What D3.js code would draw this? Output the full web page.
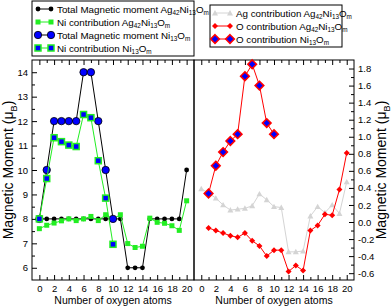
<html>
  <head>
    <meta charset="utf-8" />
    <title>Magnetic moment vs oxygen atoms</title>
    <style>
      body { margin: 0; background: #fff; }
      text { font-family: "Liberation Sans", Arial, sans-serif; }
    </style>
  </head>
  <body>
    <script src="https://cdnjs.cloudflare.com/ajax/libs/d3/7.8.5/d3.min.js"></script>
    <script>
      // ---- data ----
      const atoms = [0, 1, 2, 3, 4, 5, 6, 7, 8, 9, 10, 11, 12, 13, 14, 15, 16, 17, 18, 19, 20];
      const totalAgNi = [8, 8, 8, 8, 8, 8, 8, 8, 8, 8, 8, 8, 6, 6, 6, 8, 8, 8, 8, 8, 10];
      const niAgNi = [7.6, 7.74, 7.83, 7.92, 8.0, 7.93, 8.0, 8.1, 7.93, 8.17, 8.0, 8.17, 6.99, 6.83, 6.88, 8.03, 7.86, 7.82, 7.72, 7.53, 8.74];

      const atomsNi = [0, 1, 2, 3, 4, 5, 6, 7, 8, 9, 10];
      const totalNi = [8, 10, 12, 12, 12, 12, 14, 14, 12, 10, 8];
      const niNi = [8.0, 9.65, 11.32, 11.16, 11.02, 10.96, 12.27, 12.14, 10.38, 8.85, 6.96];

      const agAgNi = [0.39, 0.34, 0.28, 0.2, 0.14, 0.15, 0.16, 0.19, 0.33, 0.26, 0.18, 0.17, -0.35, -0.35, -0.34, 0.07, 0.18, 0.11, 0.2, 0.1, 0.47];

      const atomsO = [1, 2, 3, 4, 5, 6, 7, 8, 9, 10, 11, 12, 13, 14, 15, 16, 17, 18, 19, 20];
      const oAgNi = [-0.07, -0.1, -0.13, -0.16, -0.18, -0.13, -0.22, -0.28, -0.4, -0.33, -0.33, -0.58, -0.51, -0.57, -0.1, -0.04, 0.09, 0.08, 0.38, 0.81];

      const atomsONi = [1, 2, 3, 4, 5, 6, 7, 8, 9, 10];
      const oNi = [0.335, 0.66, 0.82, 0.95, 1.03, 1.71, 1.85, 1.6, 1.16, 1.03];

      const xTicks = [0, 2, 4, 6, 8, 10, 12, 14, 16, 18, 20];
      const xMinor = [1, 3, 5, 7, 9, 11, 13, 15, 17, 19];
      const yTicksL = [6, 7, 8, 9, 10, 11, 12, 13, 14];
      const yMinorL = [6.5, 7.5, 8.5, 9.5, 10.5, 11.5, 12.5, 13.5];
      const yTicksR = [-0.6, -0.4, -0.2, 0.0, 0.2, 0.4, 0.6, 0.8, 1.0, 1.2, 1.4, 1.6, 1.8];
      const yMinorR = [-0.5, -0.3, -0.1, 0.1, 0.3, 0.5, 0.7, 0.9, 1.1, 1.3, 1.5, 1.7];

      const GREEN = "#22ee22";
      const BLUE = "#0000ff";
      const RED = "#ff0000";
      const GRAY = "#d4d4d4";

      const width = 392;
      const height = 306;
      const plotTop = 60, plotBottom = 280;

      const svg = d3.select("body").append("svg")
        .attr("width", width)
        .attr("height", height);

      const xL = d3.scaleLinear().domain([-1, 21]).range([32, 194]);
      const yL = d3.scaleLinear().domain([5.5, 14.5]).range([plotBottom, plotTop]);
      const xR = d3.scaleLinear().domain([-1, 21]).range([194, 354]);
      const yR = d3.scaleLinear().domain([-0.68, 1.9]).range([plotBottom, plotTop]);

      function styleAxis(g) {
        g.select(".domain").remove();
        g.selectAll("line").attr("stroke", "#000");
        g.selectAll("text").attr("font-size", 9.5).attr("fill", "#000")
          .attr("font-family", "Liberation Sans, Arial, sans-serif");
      }

      function xAxes(x) {
        svg.append("g").attr("transform", `translate(0,${plotBottom})`)
          .call(d3.axisBottom(x).tickValues(xTicks).tickSizeInner(-5).tickSizeOuter(0).tickPadding(5))
          .call(styleAxis);
        svg.append("g").attr("transform", `translate(0,${plotBottom})`)
          .call(d3.axisBottom(x).tickValues(xMinor).tickSizeInner(-3).tickSizeOuter(0).tickFormat(""))
          .call(styleAxis);
        svg.append("g").attr("transform", `translate(0,${plotTop})`)
          .call(d3.axisTop(x).tickValues(xTicks).tickSizeInner(-5).tickSizeOuter(0).tickFormat(""))
          .call(styleAxis);
        svg.append("g").attr("transform", `translate(0,${plotTop})`)
          .call(d3.axisTop(x).tickValues(xMinor).tickSizeInner(-3).tickSizeOuter(0).tickFormat(""))
          .call(styleAxis);
      }
      xAxes(xL);
      xAxes(xR);

      svg.append("g").attr("transform", "translate(32,0)")
        .call(d3.axisLeft(yL).tickValues(yTicksL).tickSizeInner(-5).tickSizeOuter(0).tickPadding(4))
        .call(styleAxis);
      svg.append("g").attr("transform", "translate(32,0)")
        .call(d3.axisLeft(yL).tickValues(yMinorL).tickSizeInner(-3).tickSizeOuter(0).tickFormat(""))
        .call(styleAxis);
      svg.append("g").attr("transform", "translate(354,0)")
        .call(d3.axisRight(yR).tickValues(yTicksR).tickSizeInner(-5).tickSizeOuter(0).tickPadding(4)
          .tickFormat(d => d.toFixed(1)))
        .call(styleAxis);
      svg.append("g").attr("transform", "translate(354,0)")
        .call(d3.axisRight(yR).tickValues(yMinorR).tickSizeInner(-3).tickSizeOuter(0).tickFormat(""))
        .call(styleAxis);

      // panel frames
      svg.append("rect").attr("x", 32).attr("y", plotTop).attr("width", 162).attr("height", plotBottom - plotTop)
        .attr("fill", "none").attr("stroke", "#000");
      svg.append("rect").attr("x", 194).attr("y", plotTop).attr("width", 160).attr("height", plotBottom - plotTop)
        .attr("fill", "none").attr("stroke", "#000");

      // markers
      function marker(g, shape, cx, cy, o) {
        if (shape === "circle") {
          g.append("circle").attr("cx", cx).attr("cy", cy).attr("r", o.size)
            .attr("fill", o.fill).attr("stroke", o.stroke || "none").attr("stroke-width", o.sw || 1);
        } else if (shape === "square") {
          g.append("rect").attr("x", cx - o.size).attr("y", cy - o.size)
            .attr("width", o.size * 2).attr("height", o.size * 2)
            .attr("fill", o.fill).attr("stroke", o.stroke || "none").attr("stroke-width", o.sw || 1);
        } else if (shape === "diamond") {
          const s = o.size;
          g.append("path").attr("d", `M${cx},${cy - s}L${cx + s},${cy}L${cx},${cy + s}L${cx - s},${cy}Z`)
            .attr("fill", o.fill).attr("stroke", o.stroke || "none").attr("stroke-width", o.sw || 1);
        } else if (shape === "triangle") {
          const s = o.size;
          g.append("path").attr("d", `M${cx},${cy - s}L${cx + s},${cy + s * 0.8}L${cx - s},${cy + s * 0.8}Z`)
            .attr("fill", o.fill);
        }
      }

      function series(xs, ys, x, y, o) {
        const g = svg.append("g");
        const pts = xs.map((d, i) => [x(d), y(ys[i])]);
        g.append("path").attr("d", d3.line()(pts))
          .attr("fill", "none").attr("stroke", o.line).attr("stroke-width", 1);
        pts.forEach(p => marker(g, o.shape, p[0], p[1], o));
      }

      const sTotalAg = { line: "#000", shape: "circle", size: 2.4, fill: "#000" };
      const sNiAg = { line: GREEN, shape: "square", size: 2.5, fill: GREEN };
      const sTotalNi = { line: "#000", shape: "circle", size: 3.7, fill: BLUE, stroke: "#000", sw: 0.8 };
      const sNiNi = { line: GREEN, shape: "square", size: 3, fill: BLUE, stroke: GREEN, sw: 1.5 };
      const sAg = { line: GRAY, shape: "triangle", size: 3, fill: GRAY };
      const sOAg = { line: RED, shape: "diamond", size: 3, fill: RED };
      const sONi = { line: RED, shape: "diamond", size: 4.3, fill: BLUE, stroke: RED, sw: 1.6 };

      series(atoms, totalAgNi, xL, yL, sTotalAg);
      series(atoms, niAgNi, xL, yL, sNiAg);
      series(atomsNi, totalNi, xL, yL, sTotalNi);
      series(atomsNi, niNi, xL, yL, sNiNi);

      series(atoms, agAgNi, xR, yR, sAg);
      series(atomsO, oAgNi, xR, yR, sOAg);
      series(atomsONi, oNi, xR, yR, sONi);

      // rich text with subscripts; the next normal part shifts back up
      function richText(sel, parts, size) {
        let shift = 0;
        parts.forEach(p => {
          const t = sel.append("tspan");
          if (p[1]) {
            t.attr("font-size", size * 0.65).attr("dy", size * 0.3 - shift);
            shift = size * 0.3;
          } else {
            t.attr("font-size", size).attr("dy", -shift);
            shift = 0;
          }
          t.text(p[0]);
        });
        return sel;
      }

      [113, 274].forEach(cx => {
        svg.append("text").attr("x", cx).attr("y", 304).attr("text-anchor", "middle")
          .attr("font-size", 10.5).text("Number of oxygen atoms");
      });
      const yTitle = [["Magnetic Moment (\u03bc", 0], ["B", 1], [")", 0]];
      richText(svg.append("text").attr("text-anchor", "middle")
        .attr("transform", "translate(13,170) rotate(-90)"), yTitle, 14);
      richText(svg.append("text").attr("text-anchor", "middle")
        .attr("transform", "translate(386,170) rotate(-90)"), yTitle, 14);

      // legends
      function legend(x, y, w, h, rows) {
        svg.append("rect").attr("x", x).attr("y", y).attr("width", w).attr("height", h)
          .attr("fill", "#fff").attr("stroke", "#000");
        rows.forEach(r => {
          const g = svg.append("g");
          g.append("line").attr("x1", r.x0).attr("x2", r.x1).attr("y1", r.y).attr("y2", r.y)
            .attr("stroke", r.o.line).attr("stroke-width", 1);
          marker(g, r.o.shape, r.x0, r.y, r.o);
          marker(g, r.o.shape, r.x1, r.y, r.o);
          richText(svg.append("text").attr("x", r.tx).attr("y", r.y + 3.5), r.label, 9.8);
        });
      }

      legend(32, 1, 162, 55, [
        { y: 9, x0: 38, x1: 51, tx: 57, o: sTotalAg,
          label: [["Total Magnetic moment Ag", 0], ["42", 1], ["Ni", 0], ["13", 1], ["O", 0], ["m", 1]] },
        { y: 22, x0: 38, x1: 51, tx: 57, o: sNiAg,
          label: [["Ni contribution Ag", 0], ["42", 1], ["Ni", 0], ["13", 1], ["O", 0], ["m", 1]] },
        { y: 35, x0: 38, x1: 51, tx: 57, o: sTotalNi,
          label: [["Total Magnetic moment Ni", 0], ["13", 1], ["O", 0], ["m", 1]] },
        { y: 48, x0: 38, x1: 51, tx: 57, o: sNiNi,
          label: [["Ni contribution Ni", 0], ["13", 1], ["O", 0], ["m", 1]] }
      ]);

      legend(210, 5, 132, 42, [
        { y: 13, x0: 215, x1: 230, tx: 236, o: sAg,
          label: [["Ag contribution Ag", 0], ["42", 1], ["Ni", 0], ["13", 1], ["O", 0], ["m", 1]] },
        { y: 26, x0: 215, x1: 230, tx: 236, o: sOAg,
          label: [["O contribution Ag", 0], ["42", 1], ["Ni", 0], ["13", 1], ["O", 0], ["m", 1]] },
        { y: 39, x0: 215, x1: 230, tx: 236, o: sONi,
          label: [["O contribution Ni", 0], ["13", 1], ["O", 0], ["m", 1]] }
      ]);
    </script>
  </body>
</html>
